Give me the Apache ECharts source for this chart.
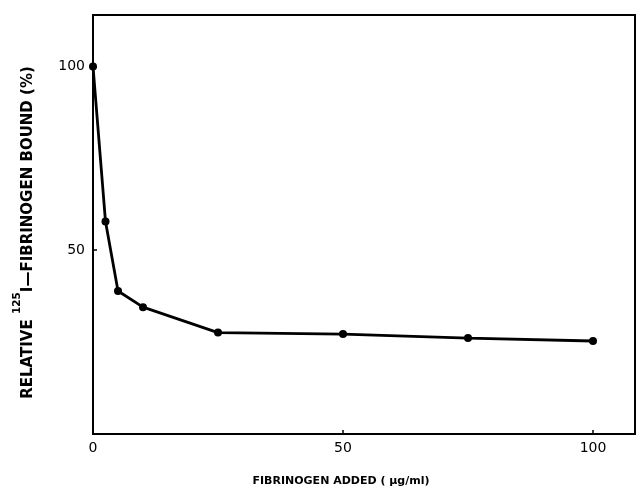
<!DOCTYPE html>
<html>
<head>
<meta charset="utf-8">
<script src="https://cdn.jsdelivr.net/npm/echarts@6/dist/echarts.min.js"></script>
<style>
html,body{margin:0;padding:0;background:#fff;}
#c{width:641px;height:486px;}
</style>
</head>
<body>
<div id="c"></div>
<script>
// Data
const fibrinogenAdded = [0, 2.5, 5, 10, 25, 50, 75, 100];
const relativeBound = [100, 57.8, 38.9, 34.5, 27.6, 27.2, 26.1, 25.3];
const xTicks = [0, 50, 100];
const yTicks = [50, 100];

const chart = echarts.init(document.getElementById('c'), null, {renderer: 'canvas'});
const font = 'DejaVu Sans';
chart.setOption({
  backgroundColor: '#fff',
  animation: false,
  grid: {
    left: 93, right: 6, top: 15, bottom: 52,
    containLabel: false, outerBoundsMode: 'none',
    show: true, borderColor: '#000', borderWidth: 2
  },
  xAxis: {
    type: 'value', min: 0, max: 108.4, interval: 50,
    name: 'FIBRINOGEN ADDED ( \u00b5g/ml)',
    nameLocation: 'middle', nameGap: 42,
    nameTextStyle: {fontFamily: font, fontWeight: 'bold', fontSize: 11, color: '#000', padding: [0, 46, 0, 0]},
    axisLine: {show: true, lineStyle: {color: '#000', width: 2}},
    axisTick: {show: true, inside: true, length: 4, lineStyle: {color: '#000', width: 1.5}},
    axisLabel: {
      fontFamily: font, fontSize: 14, color: '#000', margin: 7,
      formatter: v => xTicks.includes(v) ? String(v) : ''
    },
    splitLine: {show: false}
  },
  yAxis: {
    type: 'value', min: 0, max: 114, interval: 50,
    name: '{a|RELATIVE }{s|125}{a|I\u2014FIBRINOGEN BOUND (%)}',
    nameLocation: 'middle', nameGap: 65, nameRotate: 90,
    nameTextStyle: {
      fontFamily: font, fontWeight: 'bold', fontSize: 15, color: '#000',
      padding: [0, 16, 0, 0],
      rich: {
        a: {fontFamily: font, fontWeight: 'bold', fontSize: 15, color: '#000', lineHeight: 16, verticalAlign: 'top', padding: [9, 0, 0, 0]},
        s: {fontFamily: font, fontWeight: 'bold', fontSize: 10.5, color: '#000', lineHeight: 11, verticalAlign: 'top'}
      }
    },
    axisLine: {show: true, lineStyle: {color: '#000', width: 2}},
    axisTick: {show: true, inside: true, length: 4, lineStyle: {color: '#000', width: 1.5}},
    axisLabel: {
      fontFamily: font, fontSize: 14, color: '#000', margin: 8,
      formatter: v => yTicks.includes(v) ? String(v) : ''
    },
    splitLine: {show: false}
  },
  series: [{
    type: 'line',
    data: fibrinogenAdded.map((x, i) => [x, relativeBound[i]]),
    symbol: 'circle', symbolSize: 8,
    itemStyle: {color: '#000'},
    lineStyle: {color: '#000', width: 2.8},
    clip: false
  }]
});
</script>
</body>
</html>
